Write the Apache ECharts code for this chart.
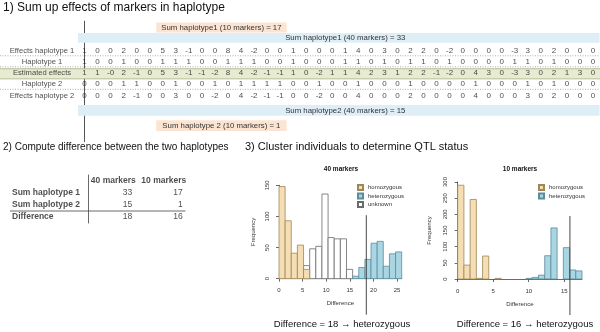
<!DOCTYPE html>
<html>
<head>
<meta charset="utf-8">
<script src="https://cdn.jsdelivr.net/npm/echarts@6/dist/echarts.min.js"></script>
<style>
html, body { margin: 0; padding: 0; background: #fff; }
#main { width: 600px; height: 332px; }
</style>
</head>
<body>
<div id="main"></div>
<script>
// ---- part 1: marker table ----
var rowNames = ['Effects haplotype 1', 'Haplotype 1', 'Estimated effects', 'Haplotype 2', 'Effects haplotype 2'];
var effectsHap1 = [1,0,0,2,0,0,5,3,-1,0,0,8,4,-2,0,0,1,0,0,0,1,4,0,3,0,2,2,0,-2,0,0,0,0,-3,3,0,2,0,0,0];
var hap1        = [1,0,0,1,0,0,1,1,1,0,0,1,1,1,0,0,1,0,0,0,1,1,0,1,0,1,1,0,1,0,0,0,0,1,1,0,1,0,0,0];
var estEffects  = [1,1,-0,2,-1,0,5,3,-1,-1,-2,8,4,-2,-1,-1,1,0,-2,1,1,4,2,3,1,2,2,-1,-2,0,4,3,0,-3,3,0,2,1,3,0];
var hap2        = [0,0,0,1,1,0,0,1,0,0,1,0,1,1,1,1,0,0,1,0,0,1,0,0,0,1,0,0,0,0,1,0,0,0,1,0,1,0,0,0];
var effectsHap2 = [0,0,0,2,-1,0,0,3,0,0,-2,0,4,-2,-1,-1,0,0,-2,0,0,4,0,0,0,2,0,0,0,0,4,0,0,0,3,0,2,0,0,0];
var sum40 = [33, 15];
var sum10 = [17, 1];

// ---- part 2: difference table ----
var tableCols = ['40 markers', '10 markers'];
var tableRows = ['Sum haplotype 1', 'Sum haplotype 2', 'Difference'];
var table40 = [33, 15, 18];
var table10 = [17, 1, 16];

// ---- part 3: histograms ----
var binStart40 = [0,1.3,2.6,3.9,5.2,6.5,7.8,9.1,10.4,11.7,13,14.3,15.6,16.9,18.2,19.5,20.8,22.1,23.4,24.7];
var hom40 = [148,93,41,54,15,0,0,0,0,0,0,0,0,0,0,0,0,0,0,0];
var unk40 = [0,0,0,0,21,48,52,136,66,64,64,15,0,0,0,0,0,0,0,0];
var het40 = [0,0,0,0,0,0,0,0,0,0,0,0,4,18,31,57,60,20,40,43];
var binStart10 = [0,0.875,1.75,2.625,3.5,4.375,5.25,6.125,7,7.875,8.75,9.625,10.5,11.375,12.25,13.125,14,14.875,15.75,16.625];
var hom10 = [290,43,246,2,71,0,2,0,0,0,0,0,0,0,0,0,0,0,0,0];
var het10 = [0,0,0,0,0,0,0,0,0,0,0,2,5,12,72,158,0,97,28,25];
var cutoff = [18.5, 15.8];

var FONT = 'Liberation Sans';
var chart = echarts.init(document.getElementById('main'));

function fmt(v) { return (v === 0 && 1 / v < 0) ? '-0' : String(v); }

// bands and boxes of the top table
var annotations = [
  { rows: [-2.5, -1.6], cols: [5.5, 15.5], fill: '#fce4d3', text: 'Sum haplotype1 (10 markers) = ' + sum10[0] },
  { rows: [-1.55, -0.7], cols: [-0.5, 39.5], fill: '#ddeef6', text: 'Sum haplotype1 (40 markers) = ' + sum40[0], textCol: 20 },
  { rows: [1.62, 2.52], full: true, fill: '#e6ebd2', stroke: '#a6b083' },
  { rows: [4.85, 5.8], cols: [-0.5, 39.5], fill: '#ddeef6', text: 'Sum haplotype2 (40 markers) = ' + sum40[1], textCol: 20 },
  { rows: [6.2, 7.15], cols: [5.5, 15.5], fill: '#fce4d3', text: 'Sum haplotype 2 (10 markers) = ' + sum10[1] }
];
var dividers = [0.47, 1.45, 3.45];

var series = [];

series.push({
  type: 'custom', xAxisIndex: 0, yAxisIndex: 0, silent: true,
  data: annotations.map(function (a) { return [a.cols ? a.cols[0] : 0, a.rows[0]]; }),
  encode: { x: 0, y: 1 },
  renderItem: function (params, api) {
    var a = annotations[params.dataIndex];
    var c0 = a.cols ? a.cols[0] : 0, c1 = a.cols ? a.cols[1] : 0;
    var p0 = api.coord([c0, a.rows[0]]), p1 = api.coord([c1, a.rows[1]]);
    var x0 = a.full ? 0 : p0[0], x1 = a.full ? api.getWidth() : p1[0];
    var kids = [{ type: 'rect', shape: { x: x0, y: p0[1], width: x1 - x0, height: p1[1] - p0[1] }, style: { fill: a.fill } }];
    if (a.stroke) {
      kids.push({ type: 'line', shape: { x1: x0, y1: p0[1], x2: x1, y2: p0[1] }, style: { stroke: a.stroke, lineWidth: 0.8 } });
      kids.push({ type: 'line', shape: { x1: x0, y1: p1[1], x2: x1, y2: p1[1] }, style: { stroke: a.stroke, lineWidth: 0.8 } });
    }
    if (a.text) {
      var tx = a.textCol != null ? api.coord([a.textCol, 0])[0] : (x0 + x1) / 2;
      kids.push({ type: 'text', x: tx, y: (p0[1] + p1[1]) / 2,
        style: { text: a.text, fill: '#333', font: '7.8px "' + FONT + '"', textAlign: 'center', textVerticalAlign: 'middle' } });
    }
    return { type: 'group', children: kids };
  }
});

series.push({
  type: 'custom', xAxisIndex: 0, yAxisIndex: 0, silent: true,
  data: dividers.map(function (d) { return [0, d]; }),
  encode: { x: 0, y: 1 },
  renderItem: function (params, api) {
    var y = api.coord([0, dividers[params.dataIndex]])[1];
    return { type: 'line', shape: { x1: 0, y1: y, x2: api.getWidth(), y2: y },
      style: { stroke: '#999', lineWidth: 0.8, lineDash: [1, 1.5] } };
  }
});

[effectsHap1, hap1, estEffects, hap2, effectsHap2].forEach(function (arr, r) {
  series.push({
    type: 'scatter', xAxisIndex: 0, yAxisIndex: 0, symbolSize: 0, silent: true,
    data: arr.map(function (v, c) { return [c, r]; }),
    label: { show: true, position: 'inside', fontSize: 8, color: '#222', fontFamily: FONT,
      formatter: function (p) { return fmt(arr[p.dataIndex]); } }
  });
});

series.push({
  type: 'scatter', xAxisIndex: 0, yAxisIndex: 0, symbolSize: 0, silent: true,
  data: rowNames.map(function (n, r) { return [-0.5, r]; }),
  label: { show: true, position: 'inside', offset: [-36, 0], align: 'center', fontSize: 7.6, color: '#222', fontFamily: FONT,
    formatter: function (p) { return rowNames[p.dataIndex]; } }
});

// table part 2
series.push({
  type: 'custom', xAxisIndex: 1, yAxisIndex: 1, silent: true,
  data: [[1.93, 1.5]],
  encode: { x: 0, y: 1 },
  renderItem: function (params, api) {
    var p = api.coord([1.93, 1.5]);
    return { type: 'line', shape: { x1: 10, y1: p[1], x2: p[0], y2: p[1] }, style: { stroke: '#444', lineWidth: 0.8 } };
  }
});
series.push({
  type: 'scatter', xAxisIndex: 1, yAxisIndex: 1, symbolSize: 0, silent: true,
  data: tableCols.map(function (n, c) { return [c + 0.5, -1]; }),
  label: { show: true, position: 'inside', fontSize: 8.5, fontWeight: 'bold', color: '#222', fontFamily: FONT,
    formatter: function (p) { return tableCols[p.dataIndex]; } }
});
series.push({
  type: 'scatter', xAxisIndex: 1, yAxisIndex: 1, symbolSize: 0, silent: true,
  data: tableRows.map(function (n, r) { return [-0.1, r]; }),
  label: { show: true, position: 'inside', offset: [-71, 0], align: 'left', fontSize: 8.5, fontWeight: 'bold', color: '#222', fontFamily: FONT,
    formatter: function (p) { return tableRows[p.dataIndex]; } }
});
[table40, table10].forEach(function (arr, c) {
  series.push({
    type: 'scatter', xAxisIndex: 1, yAxisIndex: 1, symbolSize: 0, silent: true,
    data: arr.map(function (v, r) { return [c + 0.5, r]; }),
    label: { show: true, position: 'inside', offset: [19, 0], align: 'right', fontSize: 8.5, color: '#222', fontFamily: FONT,
      formatter: function (p) { return String(arr[p.dataIndex]); } }
  });
});

// histograms
var styles = {
  homozygous: { fill: '#f5deb3', stroke: '#9e8859' },
  heterozygous: { fill: '#aad6e4', stroke: '#5a8c9b' },
  unknown: { fill: '#ffffff', stroke: '#6a6a6a' }
};
function histSeries(name, starts, width, counts, gi) {
  var data = [];
  counts.forEach(function (v, i) { if (v > 0) data.push([starts[i], starts[i] + width, v]); });
  var st = styles[name];
  return {
    type: 'custom', name: name, xAxisIndex: gi, yAxisIndex: gi, silent: true,
    itemStyle: { color: st.fill, borderColor: st.stroke, borderWidth: 0.8 },
    data: data, encode: { x: [0, 1], y: 2 },
    renderItem: function (params, api) {
      var a = api.coord([api.value(0), api.value(2)]);
      var b = api.coord([api.value(1), 0]);
      return { type: 'rect', shape: { x: a[0], y: a[1], width: b[0] - a[0], height: b[1] - a[1] },
        style: { fill: st.fill, stroke: st.stroke, lineWidth: 0.8 } };
    }
  };
}
series.push(histSeries('unknown', binStart40, 1.3, unk40, 2));
series.push(histSeries('homozygous', binStart40, 1.3, hom40, 2));
series.push(histSeries('heterozygous', binStart40, 1.3, het40, 2));
series.push(histSeries('homozygous', binStart10, 0.875, hom10, 3));
series.push(histSeries('heterozygous', binStart10, 0.875, het10, 3));

function cutSeries(gi, v, topVal) {
  return {
    type: 'custom', xAxisIndex: gi, yAxisIndex: gi, silent: true, z: 5,
    data: [[v, topVal]], encode: { x: 0, y: 1 },
    renderItem: function (params, api) {
      var a = api.coord([api.value(0), api.value(1)]);
      var b = api.coord([api.value(0), 0]);
      return { type: 'line', shape: { x1: a[0], y1: a[1], x2: a[0], y2: b[1] + 36 }, style: { stroke: '#333', lineWidth: 0.9 } };
    }
  };
}
series.push(cutSeries(2, cutoff[0], 102));
series.push(cutSeries(3, cutoff[1], 195));

var axLine = { show: true, lineStyle: { color: '#444', width: 0.8 } };
var axTick = { show: true, length: 3, lineStyle: { color: '#444', width: 0.8 } };
var axLab = { fontSize: 6, color: '#333', fontFamily: FONT, margin: 4 };
var hidden = { show: false };

function histX(gi, max, ticks) {
  return { gridIndex: gi, type: 'value', min: 0, max: max, offset: 5,
    axisLine: axLine, axisTick: Object.assign({ customValues: ticks }, axTick),
    axisLabel: Object.assign({ customValues: ticks }, axLab), splitLine: hidden,
    name: 'Difference', nameLocation: 'middle', nameGap: 17,
    nameTextStyle: { fontSize: 6, color: '#333', fontFamily: FONT } };
}
function histY(gi, max, gap) {
  return { gridIndex: gi, type: 'value', min: 0, max: max, interval: 50, offset: 5,
    axisLine: axLine, axisTick: axTick, axisLabel: Object.assign({ rotate: 90 }, axLab), splitLine: hidden,
    name: 'Frequency', nameLocation: 'middle', nameGap: gap, nameRotate: 90,
    nameTextStyle: { fontSize: 6, color: '#333', fontFamily: FONT } };
}

function txt(x, y, text, size, weight, align) {
  return { type: 'text', x: x, y: y, silent: true,
    style: { text: text, fill: '#111', font: (weight || 'normal') + ' ' + size + 'px "' + FONT + '"',
      textAlign: align || 'left', textVerticalAlign: 'middle' } };
}

var option = {
  animation: false,
  textStyle: { fontFamily: FONT },
  grid: [
    { left: 78, top: 21.25, width: 521.5, height: 120.4 },
    { left: 83, top: 175, width: 106, height: 48 },
    { left: 279, top: 185.3, width: 122.7, height: 93.4 },
    { left: 457.7, top: 182, width: 124.3, height: 97 }
  ],
  xAxis: [
    { gridIndex: 0, type: 'value', min: -0.5, max: 39.5, show: false },
    { gridIndex: 1, type: 'value', min: -0.1, max: 2, show: false },
    histX(2, 26, [0, 5, 10, 15, 20, 25]),
    histX(3, 17.5, [0, 5, 10, 15])
  ],
  yAxis: [
    { gridIndex: 0, type: 'value', inverse: true, min: -2.6, max: 8.1,
      axisLine: { show: true, lineStyle: { color: '#555', width: 1 } }, axisTick: hidden, axisLabel: hidden, splitLine: hidden },
    { gridIndex: 1, type: 'value', inverse: true, min: -1.5, max: 2.5,
      axisLine: { show: true, lineStyle: { color: '#444', width: 0.8 } }, axisTick: hidden, axisLabel: hidden, splitLine: hidden },
    histY(2, 150, 18),
    histY(3, 300, 20)
  ],
  legend: [
    { left: 357, top: 184, orient: 'vertical', padding: 0, itemGap: 1.5, itemWidth: 5, itemHeight: 5, icon: 'rect',
      selectedMode: false, textStyle: { fontSize: 6, color: '#333', fontFamily: FONT },
      data: ['homozygous', 'heterozygous', 'unknown'] },
    { left: 538, top: 184, orient: 'vertical', padding: 0, itemGap: 1.5, itemWidth: 5, itemHeight: 5, icon: 'rect',
      selectedMode: false, textStyle: { fontSize: 6, color: '#333', fontFamily: FONT },
      data: ['homozygous', 'heterozygous'] }
  ],
  graphic: [
    txt(3, 8, '1) Sum up effects of markers in haplotype', 12),
    txt(3, 147, '2) Compute difference between the two haplotypes', 10),
    txt(245, 147, '3) Cluster individuals to determine QTL status', 11),
    txt(341, 169, '40 markers', 6.5, 'bold', 'center'),
    txt(520, 169, '10 markers', 6.5, 'bold', 'center'),
    txt(342, 324, 'Difference = ' + table40[2] + ' \u2192 heterozygous', 9.5, 'normal', 'center'),
    txt(525, 324, 'Difference = ' + table10[2] + ' \u2192 heterozygous', 9.5, 'normal', 'center')
  ],
  series: series
};

chart.setOption(option);
window.onresize = chart.resize;
</script>
</body>
</html>
